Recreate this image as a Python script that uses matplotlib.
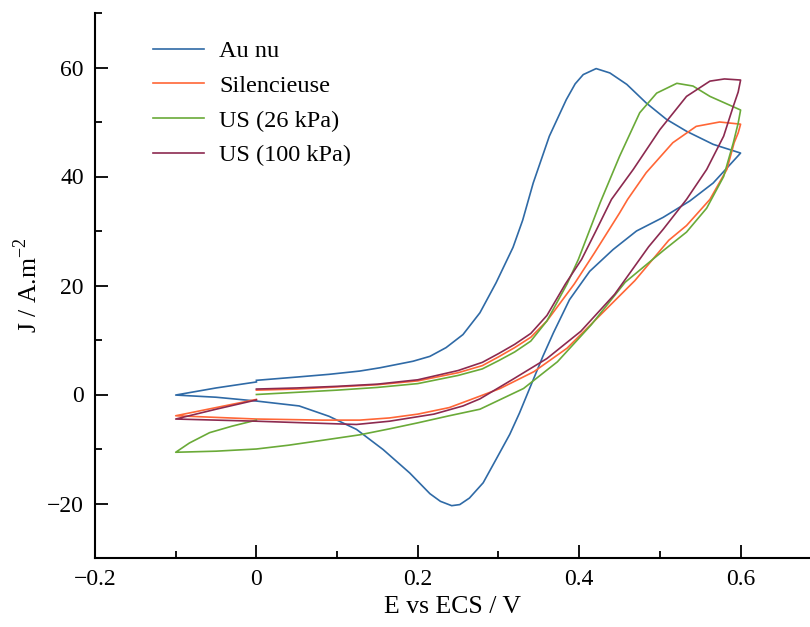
import numpy as np
import matplotlib
matplotlib.use('Agg')
import matplotlib.pyplot as plt
from matplotlib.ticker import MultipleLocator

plt.rcParams['font.family'] = ['Liberation Serif', 'DejaVu Serif']
plt.rcParams['mathtext.fontset'] = 'custom'
plt.rcParams['mathtext.rm'] = 'Liberation Serif'

# Au nu : aller 0 -> 0.6, retour 0.6 -> -0.1, aller -0.1 -> 0
E_au = [0.0, 0.05, 0.09, 0.128, 0.153, 0.194, 0.215, 0.235, 0.256, 0.277, 0.297, 0.318, 0.33, 0.343,
        0.363, 0.384, 0.395, 0.405, 0.421, 0.438, 0.459, 0.483, 0.508, 0.533, 0.566, 0.6,
        0.566, 0.537, 0.504, 0.471, 0.442, 0.413, 0.388, 0.368, 0.355, 0.343, 0.326, 0.314, 0.297,
        0.281, 0.264, 0.252, 0.242, 0.228, 0.215, 0.19, 0.157, 0.124, 0.09, 0.053, 0.0, -0.05, -0.1,
        -0.05, 0.0]
J_au = [2.6, 3.2, 3.7, 4.3, 4.9, 6.1, 7.0, 8.6, 11.0, 15.0, 20.5, 27.0, 32.0, 38.8,
        47.4, 54.1, 57.0, 58.7, 59.8, 59.0, 56.9, 53.5, 50.5, 48.3, 45.9, 44.3,
        38.8, 35.5, 32.5, 30.0, 26.6, 22.6, 17.4, 11.3, 7.0, 2.7, -3.4, -7.3, -11.9,
        -16.2, -19.0, -20.2, -20.4, -19.6, -18.2, -14.4, -10.1, -6.4, -4.0, -2.1, -1.2, -0.5, -0.1,
        1.2, 2.3]

# Silencieuse
E_sil = [0.0, 0.05, 0.1, 0.15, 0.2, 0.25, 0.28, 0.3, 0.32, 0.34, 0.36, 0.394, 0.419, 0.45, 0.46,
         0.483, 0.516, 0.545, 0.574, 0.6,
         0.597, 0.592, 0.583, 0.562, 0.533, 0.511, 0.469, 0.427, 0.385, 0.344, 0.302, 0.277, 0.239,
         0.2, 0.165, 0.128, 0.082, 0.0, -0.05, -0.1,
         -0.05, 0.0]
J_sil = [0.8, 1.0, 1.4, 1.8, 2.5, 4.0, 5.3, 6.9, 8.6, 10.5, 13.5, 20.3, 26.0, 33.3, 35.8,
         40.7, 46.2, 49.2, 50.0, 49.6,
         48.0, 46.2, 41.3, 35.8, 31.0, 28.3, 20.9, 14.7, 8.5, 4.2, 1.1, -0.3, -2.4,
         -3.6, -4.3, -4.7, -4.7, -4.5, -4.2, -3.9,
         -2.4, -0.9]

# US (26 kPa)
E_26 = [0.0, 0.05, 0.1, 0.15, 0.2, 0.25, 0.28, 0.3, 0.32, 0.34, 0.36, 0.385, 0.399, 0.426, 0.45,
        0.475, 0.496, 0.521, 0.541, 0.562, 0.6,
        0.597, 0.591, 0.579, 0.558, 0.533, 0.505, 0.457, 0.415, 0.373, 0.331, 0.277, 0.239, 0.2,
        0.165, 0.128, 0.082, 0.04, 0.0, -0.05, -0.1,
        -0.083, -0.058, -0.03, 0.0]
J_26 = [0.0, 0.4, 0.8, 1.3, 2.0, 3.5, 4.7, 6.2, 7.8, 9.8, 13.5, 20.3, 24.8, 35.2, 43.7,
        51.7, 55.3, 57.1, 56.6, 54.7, 52.2,
        49.8, 46.2, 40.0, 34.2, 29.8, 26.5, 20.6, 12.8, 6.0, 1.1, -2.7, -3.9, -5.2,
        -6.3, -7.4, -8.4, -9.3, -10.0, -10.4, -10.6,
        -8.9, -7.0, -5.8, -4.7]

# US (100 kPa)
E_100 = [0.0, 0.05, 0.1, 0.15, 0.2, 0.25, 0.28, 0.3, 0.32, 0.34, 0.36, 0.383, 0.403, 0.42, 0.44,
         0.467, 0.5, 0.533, 0.562, 0.58, 0.6,
         0.597, 0.591, 0.579, 0.558, 0.533, 0.504, 0.486, 0.444, 0.402, 0.36, 0.319, 0.277, 0.256,
         0.22, 0.165, 0.124, 0.082, 0.04, 0.0, -0.05, -0.1,
         -0.05, 0.0]
J_100 = [1.0, 1.2, 1.5, 1.9, 2.7, 4.4, 5.9, 7.5, 9.2, 11.2, 14.5, 20.3, 24.8, 29.8, 35.8,
         41.3, 48.6, 54.7, 57.5, 57.9, 57.7,
         55.5, 52.9, 47.4, 41.3, 35.8, 30.3, 27.1, 18.4, 11.6, 6.6, 2.9, -0.8, -2.1,
         -3.6, -4.9, -5.5, -5.3, -5.1, -4.9, -4.7, -4.5,
         -2.7, -1.0]

labels = ['Au nu', 'Silencieuse', 'US (26 kPa)', 'US (100 kPa)']
colors = ['#2f6aa6', '#ff6636', '#6aaa38', '#8c2a50']

fig = plt.figure(figsize=(8.1, 6.27), dpi=100)
ax = fig.add_axes([95 / 810, 69 / 627, 715 / 810, 545 / 627])

series = [(E_au, J_au), (E_sil, J_sil), (E_26, J_26), (E_100, J_100)]
for (e, j), lab, c in zip(series, labels, colors):
    ax.plot(e, j, color=c, lw=1.2, label=lab)

ax.set_xlim(-0.2, 0.686)
ax.set_ylim(-30, 70)
ax.xaxis.set_minor_locator(MultipleLocator(0.1))
ax.yaxis.set_minor_locator(MultipleLocator(10))
ax.set_xticks([-0.2, 0, 0.2, 0.4, 0.6])
ax.set_xticklabels(['\u22120.2', '0', '0.2', '0.4', '0.6'])
ax.set_yticks([-20, 0, 20, 40, 60])
ax.set_yticklabels(['\u221220', '0', '20', '40', '60'])

for s in ['top', 'right']:
    ax.spines[s].set_visible(False)
for s in ['left', 'bottom']:
    ax.spines[s].set_linewidth(1.5)

ax.tick_params(which='major', direction='in', length=9.5, width=1.3, labelsize=17, pad=8)
ax.tick_params(which='minor', direction='in', length=5, width=1.3)

ax.set_xlabel('E vs ECS / V', fontsize=18.5)
ax.set_ylabel('J / A.m$^{\\mathregular{-2}}$', fontsize=18.5)
ax.yaxis.set_label_coords(-0.074, 0.5)
ax.xaxis.set_label_coords(0.5, -0.07)

ax.legend(loc='upper left', bbox_to_anchor=(0.051, 0.99), frameon=False, fontsize=17.5,
          handlelength=2.1, handletextpad=0.6, labelspacing=0.52)

fig.savefig('out.png', dpi=100)
